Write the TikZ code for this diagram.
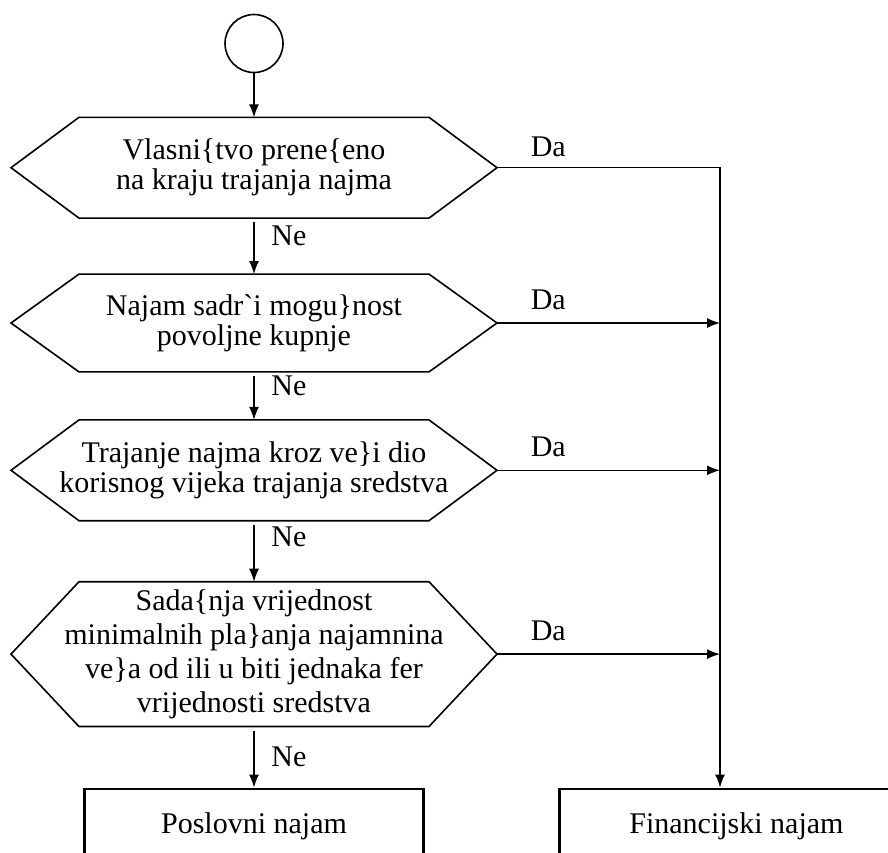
\documentclass[tikz,border=0pt]{standalone}
\usepackage{fontspec}
\setmainfont{Liberation Serif}
\usetikzlibrary{arrows.meta,positioning}

\begin{document}
\begin{tikzpicture}[
  x=0.5pt, y=-0.5pt,
  font=\fontsize{15}{15}\selectfont,
  cond/.style={rectangle, inner sep=0pt, align=center},
  res/.style={rectangle, draw, line width=1.2pt, minimum height=38pt, align=center},
  arr/.style={-{Latex[length=6.5pt,width=5pt]}, line width=0.7pt},
  outl/.style={line width=0.8pt}]
\clip (0,0) rectangle (888,852);
\node[circle, draw, outl, minimum size=29pt] (start) at (254,43.5) {};
\node[cond, minimum height=50pt, below=22pt of start] (c1) {Vlasni\{tvo prene\{eno\\na kraju trajanja najma};
\node[cond, minimum height=48.5pt, below=28pt of c1] (c2) {Najam sadr\textasciigrave i mogu\}nost\\povoljne kupnje};
\node[cond, minimum height=50pt, below=24pt of c2] (c3) {Trajanje najma kroz ve\}i dio\\korisnog vijeka trajanja sredstva};
\node[cond, minimum height=72pt, below=30.5pt of c3, font=\fontsize{15}{17}\selectfont] (c4) {Sada\{nja vrijednost\\minimalnih pla\}anja najamnina\\ve\}a od ili u biti jednaka fer\\vrijednosti sredstva};
\node[res, minimum width=169.5pt, below=30.5pt of c4] (pos) {Poslovni najam};
\node[res, minimum width=177pt, right=66.75pt of pos] (fin) {Financijski najam};
\coordinate (bus) at (720,0);
\foreach \i in {1,...,4} {
  \draw[outl] ([xshift=-87.5pt]c\i.north) -- ([xshift=87.5pt]c\i.north) -- ([xshift=121.5pt]c\i.center)
    -- ([xshift=87.5pt]c\i.south) -- ([xshift=-87.5pt]c\i.south) -- ([xshift=-121.5pt]c\i.center) -- cycle;
  \coordinate (t\i) at ([xshift=121.5pt]c\i.center);
}
\draw[arr] (start) -- (c1);
\foreach \a/\b/\p in {c1/c2/0.32,c2/c3/0.28,c3/c4/0.27,c4/pos/0.5}
  \draw[arr, shorten <=2pt] (\a.south) -- node[right, xshift=5pt, pos=\p] {Ne} (\b.north);
\draw[arr] (t1) -- node[above=2pt, pos=0.23] {Da} (t1 -| bus) -- (bus |- fin.north);
\foreach \i in {2,3,4}
  \draw[arr] (t\i) -- node[above=3pt, pos=0.23] {Da} (t\i -| bus);
\end{tikzpicture}
\end{document}
